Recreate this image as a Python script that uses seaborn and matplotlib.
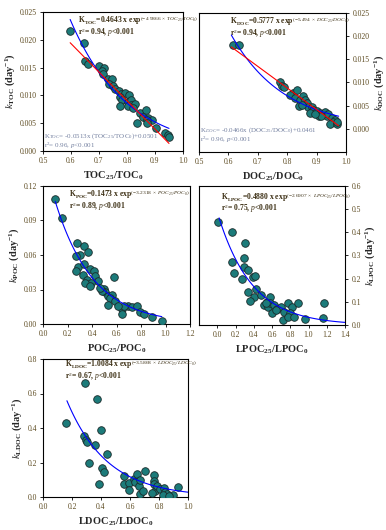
import numpy as np
import pandas as pd
import matplotlib
matplotlib.use("Agg")
import matplotlib.pyplot as plt
import seaborn as sns

# ---- data ----
toc_x = [0.597, 0.648, 0.650, 0.659, 0.701, 0.718, 0.710, 0.716, 0.731, 0.746, 0.737, 0.751,
         0.757, 0.771, 0.778, 0.792, 0.808, 0.775, 0.781, 0.805, 0.816, 0.816, 0.828, 0.775,
         0.805, 0.822, 0.846, 0.867, 0.858, 0.875, 0.891, 0.870, 0.834, 0.870, 0.905, 0.937,
         0.946, 0.950]
toc_y = [0.0215, 0.0194, 0.0161, 0.0157, 0.0152, 0.0150, 0.0143, 0.0139, 0.0130, 0.0130, 0.0120, 0.0117,
         0.0111, 0.0108, 0.0103, 0.0104, 0.0100, 0.0098, 0.0092, 0.0089, 0.0092, 0.0083, 0.0085, 0.0081,
         0.0081, 0.0077, 0.0068, 0.0074, 0.0062, 0.0059, 0.0056, 0.0055, 0.0051, 0.0050, 0.0041, 0.0033,
         0.0029, 0.0026]

doc_x = [0.614, 0.635, 0.777, 0.784, 0.789, 0.820, 0.834, 0.809, 0.826, 0.843, 0.855, 0.860,
         0.866, 0.841, 0.872, 0.883, 0.889, 0.902, 0.911, 0.923, 0.928, 0.934, 0.940, 0.909,
         0.951, 0.963, 0.957, 0.945, 0.968, 0.970, 0.914, 0.877, 0.849, 0.894]
doc_y = [0.0180, 0.0182, 0.0100, 0.0093, 0.0090, 0.0078, 0.0084, 0.0073, 0.0066, 0.0063, 0.0070, 0.0063,
         0.0056, 0.0050, 0.0047, 0.0048, 0.0041, 0.0038, 0.0034, 0.0031, 0.0036, 0.0027, 0.0031, 0.0027,
         0.0024, 0.0020, 0.0014, 0.0011, 0.0011, 0.0015, 0.0028, 0.0034, 0.0052, 0.0031]

poc_x = [0.100, 0.155, 0.277, 0.331, 0.367, 0.304, 0.266, 0.288, 0.266, 0.323, 0.380, 0.413,
         0.426, 0.448, 0.358, 0.391, 0.342, 0.380, 0.331, 0.497, 0.508, 0.530, 0.562, 0.548,
         0.527, 0.578, 0.589, 0.643, 0.643, 0.690, 0.725, 0.766, 0.793, 0.825, 0.888, 0.969,
         0.481, 0.462, 0.662, 0.616]
poc_y = [0.1084, 0.0925, 0.0703, 0.0680, 0.0630, 0.0601, 0.0593, 0.0492, 0.0463, 0.0428, 0.0477, 0.0463,
         0.0419, 0.0376, 0.0385, 0.0356, 0.0356, 0.0333, 0.0521, 0.0304, 0.0275, 0.0246, 0.0254, 0.0226,
         0.0168, 0.0405, 0.0197, 0.0130, 0.0090, 0.0159, 0.0145, 0.0159, 0.0101, 0.0087, 0.0058, 0.0029,
         0.0283, 0.0309, 0.0153, 0.0153]

lpoc_x = [0.007, 0.164, 0.305, 0.164, 0.189, 0.298, 0.291, 0.269, 0.342, 0.396, 0.418, 0.425,
          0.342, 0.400, 0.360, 0.480, 0.516, 0.545, 0.560, 0.582, 0.582, 0.625, 0.600, 0.655,
          0.698, 0.735, 0.771, 0.815, 0.800, 0.716, 0.778, 0.836, 0.880, 0.964, 1.171, 1.164,
          0.640, 0.531]
lpoc_y = [0.446, 0.403, 0.353, 0.273, 0.226, 0.288, 0.252, 0.197, 0.237, 0.209, 0.212, 0.154,
          0.144, 0.119, 0.105, 0.129, 0.086, 0.101, 0.079, 0.119, 0.096, 0.086, 0.050, 0.068,
          0.076, 0.058, 0.094, 0.079, 0.053, 0.022, 0.036, 0.036, 0.094, 0.024, 0.096, 0.029,
          0.065, 0.094]

ldoc_x = [0.161, 0.292, 0.372, 0.400, 0.285, 0.299, 0.303, 0.356, 0.315, 0.441, 0.407, 0.423,
          0.389, 0.556, 0.561, 0.591, 0.595, 0.625, 0.648, 0.637, 0.660, 0.667, 0.667, 0.687,
          0.706, 0.763, 0.763, 0.768, 0.775, 0.786, 0.805, 0.832, 0.839, 0.855, 0.828, 0.897,
          0.929, 0.867, 0.752]
ldoc_y = [0.428, 0.663, 0.567, 0.389, 0.351, 0.332, 0.320, 0.303, 0.200, 0.251, 0.168, 0.143,
          0.075, 0.123, 0.075, 0.081, 0.042, 0.104, 0.133, 0.085, 0.066, 0.100, 0.019, 0.033,
          0.152, 0.129, 0.091, 0.077, 0.033, 0.062, 0.046, 0.052, 0.027, 0.019, 0.010, 0.010,
          0.056, 0.004, 0.023]

# exponential fits K = a * exp(-b * x), and the linear fits
exp_a = {"TOC": 0.4643, "DOC": 0.5777, "POC": 0.1473, "LPOC": 0.4880, "LDOC": 1.0084}
exp_b = {"TOC": 4.9866, "DOC": 5.494, "POC": 3.2318, "LPOC": 2.6907, "LDOC": 3.5868}
fit_range = {"TOC": (0.597, 0.950), "DOC": (0.610, 0.975), "POC": (0.100, 0.970),
             "LPOC": (0.020, 1.400), "LDOC": (0.165, 1.000)}
lin_slope = {"TOC": -0.0513, "DOC": -0.0466}
lin_icept = {"TOC": 0.0501, "DOC": 0.0461}
r2_exp = {"TOC": "0.94", "DOC": "0.94", "POC": "0.89", "LPOC": "0.75", "LDOC": "0.67"}
r2_lin = {"TOC": "0.96", "DOC": "0.96"}

sns.set_style("ticks")
plt.rcParams["font.family"] = ["Liberation Serif", "DejaVu Serif"]
plt.rcParams["mathtext.fontset"] = "custom"
plt.rcParams["mathtext.rm"] = "Liberation Serif"
plt.rcParams["mathtext.it"] = "Liberation Serif:italic"
plt.rcParams["mathtext.bf"] = "Liberation Serif:bold"
if "mathtext.bfit" in plt.rcParams:
    plt.rcParams["mathtext.bfit"] = "Liberation Serif:bold:italic"

MARK = "#1c7b7a"
EQ_COL = "#3d3015"
LIN_COL = "#7480a0"
TICK_COL = "#5c4a20"

W, H = 386, 530
fig = plt.figure(figsize=(W / 100, H / 100), dpi=100)


def add_ax(l, r, t, b):
    return fig.add_axes([l / W, 1 - b / H, (r - l) / W, (b - t) / H])


def draw(ax, name, xs, ys):
    df = pd.DataFrame({"x": xs, "y": ys})
    sns.scatterplot(data=df, x="x", y="y", ax=ax, color=MARK, edgecolor="#1a2a2a",
                    linewidth=0.6, s=30, zorder=3)
    x0, x1 = fit_range[name]
    xf = np.linspace(x0, x1, 100)
    sns.lineplot(x=xf, y=exp_a[name] * np.exp(-exp_b[name] * xf), ax=ax,
                 color="#0000ff", lw=0.8, zorder=4)
    if name in lin_slope:
        xl = np.array([x0, x1])
        sns.lineplot(x=xl, y=lin_slope[name] * xl + lin_icept[name], ax=ax,
                     color="#ff0000", lw=0.8, zorder=4)
    for s in ax.spines.values():
        s.set_visible(True)
        s.set_linewidth(0.8)
        s.set_color("black")
    ax.tick_params(labelsize=5.5, labelcolor=TICK_COL, color="black", length=2.5,
                   width=0.6, direction="out", pad=2)


def exp_text(ax, name, xp, yp, var):
    ax.text(xp, yp, r"$\mathbf{K_{%s}}$=%.4f x exp$^{(-%s\ \times\ %s_{25}/%s_0)}$"
            % (name, exp_a[name], exp_b[name], var, var),
            transform=ax.transAxes, fontsize=5.5, fontweight="bold", color=EQ_COL,
            va="center", ha="left")
    ax.text(xp, yp - 0.085, r"r$^2$= %s, $p$<0.001" % r2_exp[name],
            transform=ax.transAxes, fontsize=5.5, fontweight="bold", color=EQ_COL,
            va="center", ha="left")


def lin_text(ax, name, xp, yp):
    ax.text(xp, yp, r"K$_{%s}$= %.4fx (%s$_{25}$/%s$_0$)+%.4f"
            % (name, lin_slope[name], name, name, lin_icept[name]),
            transform=ax.transAxes, fontsize=5, color=LIN_COL, va="center", ha="left")
    ax.text(xp, yp - 0.075, r"r$^2$= %s, $p$<0.001" % r2_lin[name],
            transform=ax.transAxes, fontsize=5, color=LIN_COL, va="center", ha="left")


def labels(ax, name, var, right=False):
    ax.set_xlabel(r"$\mathbf{%s_{25}/%s_{0}}$" % (var, var), fontsize=7.5, labelpad=3)
    ax.set_ylabel(r"$\mathit{k}_{\mathbf{%s}}$ $\mathbf{(day^{-1})}$" % name, fontsize=7.5,
                  labelpad=2)
    if right:
        ax.yaxis.tick_right()
        ax.yaxis.set_label_position("right")


fmt = matplotlib.ticker.FormatStrFormatter

# Panel 1: TOC
ax1 = add_ax(43, 183, 12, 151)
draw(ax1, "TOC", toc_x, toc_y)
ax1.set_xlim(0.5, 1.0)
ax1.set_ylim(0, 0.025)
ax1.set_xticks(np.arange(0.5, 1.01, 0.1))
ax1.set_yticks(np.arange(0, 0.0251, 0.005))
ax1.xaxis.set_major_formatter(fmt("%.1f"))
ax1.yaxis.set_major_formatter(fmt("%.3f"))
labels(ax1, "TOC", "TOC")
exp_text(ax1, "TOC", 0.25, 0.94, "TOC")
lin_text(ax1, "TOC", 0.01, 0.11)

# Panel 2: DOC
ax2 = add_ax(199, 346, 13, 152)
draw(ax2, "DOC", doc_x, doc_y)
ax2.set_xlim(0.5, 1.0)
ax2.set_ylim(-0.005, 0.025)
ax2.set_xticks(np.arange(0.5, 1.01, 0.1))
ax2.set_yticks(np.arange(0, 0.0251, 0.005))
ax2.xaxis.set_major_formatter(fmt("%.1f"))
ax2.yaxis.set_major_formatter(fmt("%.3f"))
labels(ax2, "DOC", "DOC", right=True)
exp_text(ax2, "DOC", 0.21, 0.94, "DOC")
lin_text(ax2, "DOC", 0.01, 0.16)

# Panel 3: POC
ax3 = add_ax(43, 190, 186, 324)
draw(ax3, "POC", poc_x, poc_y)
ax3.set_xlim(0, 1.2)
ax3.set_ylim(0, 0.12)
ax3.set_xticks(np.arange(0, 1.21, 0.2))
ax3.set_yticks(np.arange(0, 0.121, 0.03))
ax3.xaxis.set_major_formatter(fmt("%.1f"))
ax3.yaxis.set_major_formatter(fmt("%.2f"))
labels(ax3, "POC", "POC")
exp_text(ax3, "POC", 0.18, 0.935, "POC")

# Panel 4: LPOC
ax4 = add_ax(199, 345, 186, 325)
draw(ax4, "LPOC", lpoc_x, lpoc_y)
ax4.set_xlim(-0.2, 1.4)
ax4.set_ylim(0, 0.6)
ax4.set_xticks(np.arange(0, 1.41, 0.2))
ax4.set_yticks(np.arange(0, 0.61, 0.1))
ax4.xaxis.set_major_formatter(fmt("%.1f"))
ax4.yaxis.set_major_formatter(fmt("%.1f"))
labels(ax4, "LPOC", "LPOC", right=True)
exp_text(ax4, "LPOC", 0.15, 0.92, "LPOC")

# Panel 5: LDOC
ax5 = add_ax(43, 188, 359, 497)
draw(ax5, "LDOC", ldoc_x, ldoc_y)
ax5.set_xlim(0, 1.0)
ax5.set_ylim(0, 0.8)
ax5.set_xticks(np.arange(0, 1.01, 0.2))
ax5.set_yticks(np.arange(0, 0.81, 0.2))
ax5.xaxis.set_major_formatter(fmt("%.1f"))
ax5.yaxis.set_major_formatter(fmt("%.1f"))
labels(ax5, "LDOC", "LDOC")
exp_text(ax5, "LDOC", 0.15, 0.96, "LDOC")

fig.savefig("out.png", dpi=100)
